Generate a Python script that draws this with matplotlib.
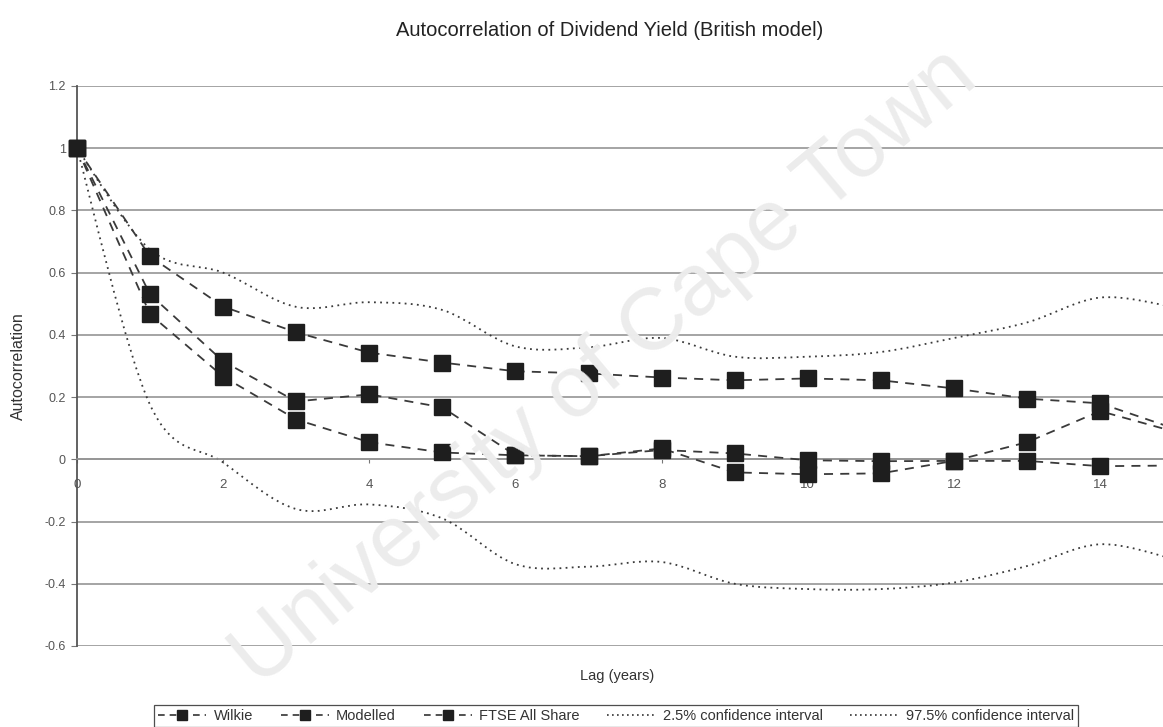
import matplotlib
matplotlib.use("Agg")
import matplotlib.pyplot as plt
from matplotlib.path import Path
from matplotlib.patches import PathPatch
from matplotlib.lines import Line2D
from matplotlib.ticker import FuncFormatter, MultipleLocator

plt.rcParams['font.family'] = ['Liberation Sans', 'DejaVu Sans']

# ---- data ----
lags = [0, 1, 2, 3, 4, 5, 6, 7, 8, 9, 10, 11, 12, 13, 14, 15]
wilkie = [1.0, 0.466, 0.266, 0.128, 0.055, 0.022, 0.013, 0.010, 0.030, 0.019,
          -0.003, -0.006, -0.005, -0.005, -0.022, -0.020]
modelled = [1.0, 0.652, 0.491, 0.408, 0.343, 0.311, 0.283, 0.276, 0.263, 0.254,
            0.260, 0.254, 0.228, 0.195, 0.180, 0.100]
ftse = [1.0, 0.530, 0.315, 0.186, 0.209, 0.167, 0.013, 0.010, 0.035, -0.042,
        -0.048, -0.045, -0.005, 0.055, 0.155, 0.090]
ci_low = [1.0, 0.175, -0.010, -0.160, -0.145, -0.190, -0.337, -0.345, -0.330,
          -0.400, -0.417, -0.417, -0.396, -0.343, -0.273, -0.320]
ci_high = [1.0, 0.674, 0.600, 0.490, 0.505, 0.480, 0.363, 0.360, 0.390, 0.330,
           0.330, 0.345, 0.390, 0.440, 0.520, 0.490]
labels = ["Wilkie", "Modelled", "FTSE All Share",
          "2.5% confidence interval", "97.5% confidence interval"]
title = "Autocorrelation of Dividend Yield (British model)"

W, H = 1163, 727
fig = plt.figure(figsize=(W / 100, H / 100), dpi=100)
ax = fig.add_axes([77 / W, 81 / H, (W - 77) / W, (646 - 86) / H])
ax.set_xlim(0, 14.86)
ax.set_ylim(-0.6, 1.2)

# gridlines
ax.yaxis.set_major_locator(MultipleLocator(0.2))
ax.grid(axis='y', color='#959595', linewidth=1.2, zorder=0)
ax.set_axisbelow(True)

for s in ['top', 'right']:
    ax.spines[s].set_visible(False)
ax.spines['left'].set_color('#555555')
ax.spines['left'].set_linewidth(1.3)
ax.spines['bottom'].set_position(('data', 0))
ax.spines['bottom'].set_color('#959595')
ax.spines['bottom'].set_linewidth(1.2)

ax.set_xticks([0, 2, 4, 6, 8, 10, 12, 14])
ax.tick_params(axis='x', length=3, color='#777777', pad=11, labelsize=9.5,
               labelcolor='#555555')
ax.tick_params(axis='y', length=4, color='#777777', pad=4, labelsize=9,
               labelcolor='#555555')
ax.yaxis.set_major_formatter(FuncFormatter(lambda v, p: f"{round(v, 1) + 0:g}"))


def smooth_path(xs, ys):
    pts = list(zip(xs, ys))
    n = len(pts)
    verts = [pts[0]]
    codes = [Path.MOVETO]
    for i in range(n - 1):
        p0 = pts[i - 1] if i > 0 else pts[i]
        p1 = pts[i]
        p2 = pts[i + 1]
        p3 = pts[i + 2] if i + 2 < n else pts[i + 1]
        c1 = (p1[0] + (p2[0] - p0[0]) / 6, p1[1] + (p2[1] - p0[1]) / 6)
        c2 = (p2[0] - (p3[0] - p1[0]) / 6, p2[1] - (p3[1] - p1[1]) / 6)
        verts += [c1, c2, p2]
        codes += [Path.CURVE4] * 3
    return Path(verts, codes)


ci_style = dict(facecolor='none', edgecolor='#3a3a3a', linewidth=1.3,
                linestyle=(0, (1, 2.4)), zorder=2, clip_on=False)
for ys in (ci_low, ci_high):
    ax.add_patch(PathPatch(smooth_path(lags, ys), **ci_style))

series_style = dict(marker='s', markersize=12, markerfacecolor='#1e1e1e',
                    markeredgecolor='#1e1e1e', color='#3a3a3a',
                    linewidth=1.3, linestyle=(0, (5, 4)), zorder=3, clip_on=False)
ax.plot(lags, wilkie, **series_style)
ax.plot(lags, modelled, **series_style)
ax.plot(lags, ftse, **series_style)

# texts
fig.text(610 / W, 1 - 31 / H, title, ha='center', va='center', fontsize=14.5,
         color='#222222')
fig.text(18 / W, 1 - 366 / H, "Autocorrelation", rotation=90, ha='center',
         va='center', fontsize=11.5, color='#333333')
fig.text(617 / W, 1 - 676 / H, "Lag (years)", ha='center', va='center',
         fontsize=10.5, color='#333333')

# watermark
fig.text(605 / W, 1 - 368 / H, "University of Cape Town", rotation=40,
         ha='center', va='center', rotation_mode='anchor', fontsize=63,
         color='#ececec', zorder=0.5)

# legend
leg_marker = dict(marker='s', markersize=6.5, markerfacecolor='#1e1e1e',
                  markeredgecolor='#1e1e1e', color='#333333', linewidth=1.2,
                  linestyle=(0, (4, 3)))
handles = [Line2D([], [], **leg_marker) for _ in range(3)]
handles += [Line2D([], [], color='#333333', linewidth=1.2, linestyle=(0, (1, 2)))
            for _ in range(2)]
leg = fig.legend(handles, labels, ncol=5, loc='center',
                 bbox_to_anchor=(616 / W, 1 - 716 / H), fontsize=10.5,
                 frameon=True, fancybox=False, edgecolor='#222222',
                 handlelength=3.3, handletextpad=0.5, columnspacing=1.9,
                 borderpad=0.25, labelcolor='#333333')
leg.get_frame().set_linewidth(0.9)

fig.savefig("out.png", dpi=100, facecolor='white')
